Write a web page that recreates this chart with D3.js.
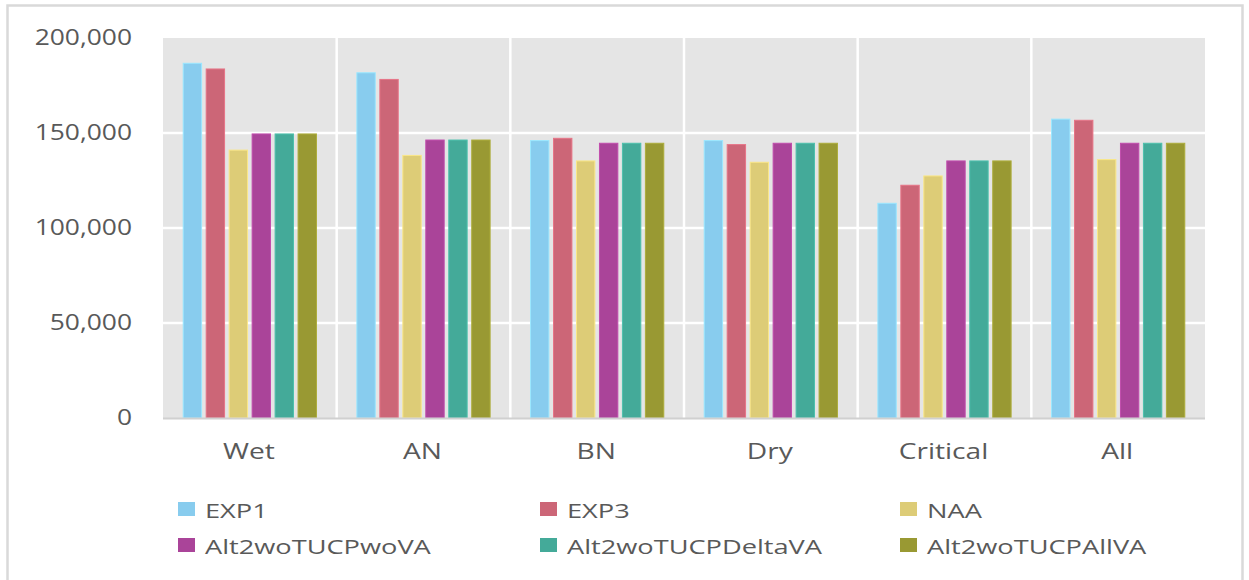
<!DOCTYPE html>
<html>
<head>
<meta charset="utf-8">
<script src="https://cdn.jsdelivr.net/npm/d3@7"></script>
<style>
  html, body { margin: 0; padding: 0; background: #ffffff; }
  svg { display: block; }
  text { font-family: "Open Sans", "Noto Sans", sans-serif; fill: #595959; }
</style>
</head>
<body>
<svg id="chart" width="1249" height="580"></svg>
<script>
// ---- data ----
const categories = ["Wet", "AN", "BN", "Dry", "Critical", "All"];
const seriesNames = ["EXP1", "EXP3", "NAA", "Alt2woTUCPwoVA", "Alt2woTUCPDeltaVA", "Alt2woTUCPAllVA"];
const seriesColors = ["#88CCEE", "#CC6677", "#DDCC77", "#AA4499", "#44AA99", "#999933"];
const EXP1 = [186700, 181700, 146000, 146000, 113000, 157300];
const EXP3 = [183700, 178200, 147200, 143900, 122500, 156700];
const NAA = [141000, 138200, 135300, 134600, 127400, 136000];
const Alt2woTUCPwoVA = [149500, 146300, 144600, 144600, 135300, 144600];
const Alt2woTUCPDeltaVA = [149500, 146300, 144600, 144600, 135300, 144600];
const Alt2woTUCPAllVA = [149500, 146300, 144600, 144600, 135300, 144600];
const yTicks = [0, 50000, 100000, 150000, 200000];

const seriesValues = [EXP1, EXP3, NAA, Alt2woTUCPwoVA, Alt2woTUCPDeltaVA, Alt2woTUCPAllVA];

// ---- layout ----
const svg = d3.select("#chart");
const plot = { left: 163, right: 1205, top: 38, bottom: 418 };

// outer frame
svg.append("rect")
  .attr("x", 7.5).attr("y", 5.5).attr("width", 1235).attr("height", 590)
  .attr("fill", "#ffffff").attr("stroke", "#d9d9d9").attr("stroke-width", 2.5);

const x0 = d3.scaleBand().domain(categories).range([plot.left, plot.right]).padding(0);
const x1 = d3.scaleBand().domain(seriesNames).range([0, x0.bandwidth()])
  .paddingInner(0.2).paddingOuter(0.88);
const y = d3.scaleLinear().domain([0, 200000]).range([plot.bottom, plot.top]);

// background
svg.append("rect")
  .attr("x", plot.left).attr("y", plot.top)
  .attr("width", plot.right - plot.left).attr("height", plot.bottom - plot.top)
  .attr("fill", "#e5e5e5");

// horizontal gridlines
svg.append("g").selectAll("line").data(yTicks.filter(d => d > 0 && d < 200000)).join("line")
  .attr("x1", plot.left).attr("x2", plot.right)
  .attr("y1", d => y(d)).attr("y2", d => y(d))
  .attr("stroke", "#ffffff").attr("stroke-width", 2.5);

// vertical category separators
svg.append("g").selectAll("line").data(categories.slice(1)).join("line")
  .attr("x1", d => x0(d)).attr("x2", d => x0(d))
  .attr("y1", plot.top).attr("y2", plot.bottom)
  .attr("stroke", "#ffffff").attr("stroke-width", 2.5);

// bars
const groups = svg.append("g").selectAll("g").data(categories).join("g")
  .attr("transform", d => `translate(${x0(d)},0)`);
groups.selectAll("rect")
  .data((c, ci) => seriesNames.map((s, si) => ({ s, si, v: seriesValues[si][ci] })))
  .join("rect")
  .attr("x", d => x1(d.s))
  .attr("width", x1.bandwidth())
  .attr("y", d => y(d.v))
  .attr("height", d => y(0) - y(d.v))
  .attr("fill", d => seriesColors[d.si])
  .attr("stroke", d => d3.color(seriesColors[d.si]).brighter(0.35))
  .attr("stroke-width", 1);

// baseline
svg.append("line")
  .attr("x1", plot.left).attr("x2", plot.right)
  .attr("y1", plot.bottom + 0.5).attr("y2", plot.bottom + 0.5)
  .attr("stroke", "#d0d0d0").attr("stroke-width", 2);

// y axis labels (using axis generator, then styling)
const yAxis = svg.append("g").attr("transform", `translate(${plot.left},0)`)
  .call(d3.axisLeft(y).tickValues(yTicks).tickFormat(d3.format(",")).tickSize(0).tickPadding(0));
yAxis.select(".domain").remove();
yAxis.selectAll(".tick text").each(function(d) {
  const t = d3.select(this);
  t.attr("x", null).attr("dy", null)
    .attr("text-anchor", "end")
    .attr("dominant-baseline", "central")
    .attr("transform", `translate(-31,-2) scale(1.2,1)`)
    .style("font-size", "22px").style("fill", "#595959")
    .attr("font-family", null);
});

// x axis labels
const xAxis = svg.append("g").attr("transform", `translate(0,${plot.bottom})`)
  .call(d3.axisBottom(x0).tickSize(0).tickPadding(0));
xAxis.select(".domain").remove();
xAxis.selectAll(".tick text").each(function() {
  d3.select(this).attr("y", null).attr("dy", null)
    .attr("text-anchor", "middle")
    .attr("transform", `translate(-1,41) scale(1.28,1)`)
    .style("font-size", "22px").style("fill", "#595959")
    .attr("font-family", null);
});

// legend
const legendCols = [178, 540, 900];
const legendRows = [509, 545];
const legend = svg.append("g").selectAll("g").data(seriesNames).join("g")
  .attr("transform", (d, i) => `translate(${legendCols[i % 3]},${legendRows[Math.floor(i / 3)]})`);
legend.append("rect")
  .attr("x", 0).attr("y", -7).attr("width", 17).attr("height", 14)
  .attr("fill", (d, i) => seriesColors[i]);
legend.append("text")
  .attr("dominant-baseline", "central")
  .attr("transform", "translate(27,1) scale(1.36,1)")
  .style("font-size", "20px")
  .text(d => d);
</script>
</body>
</html>
